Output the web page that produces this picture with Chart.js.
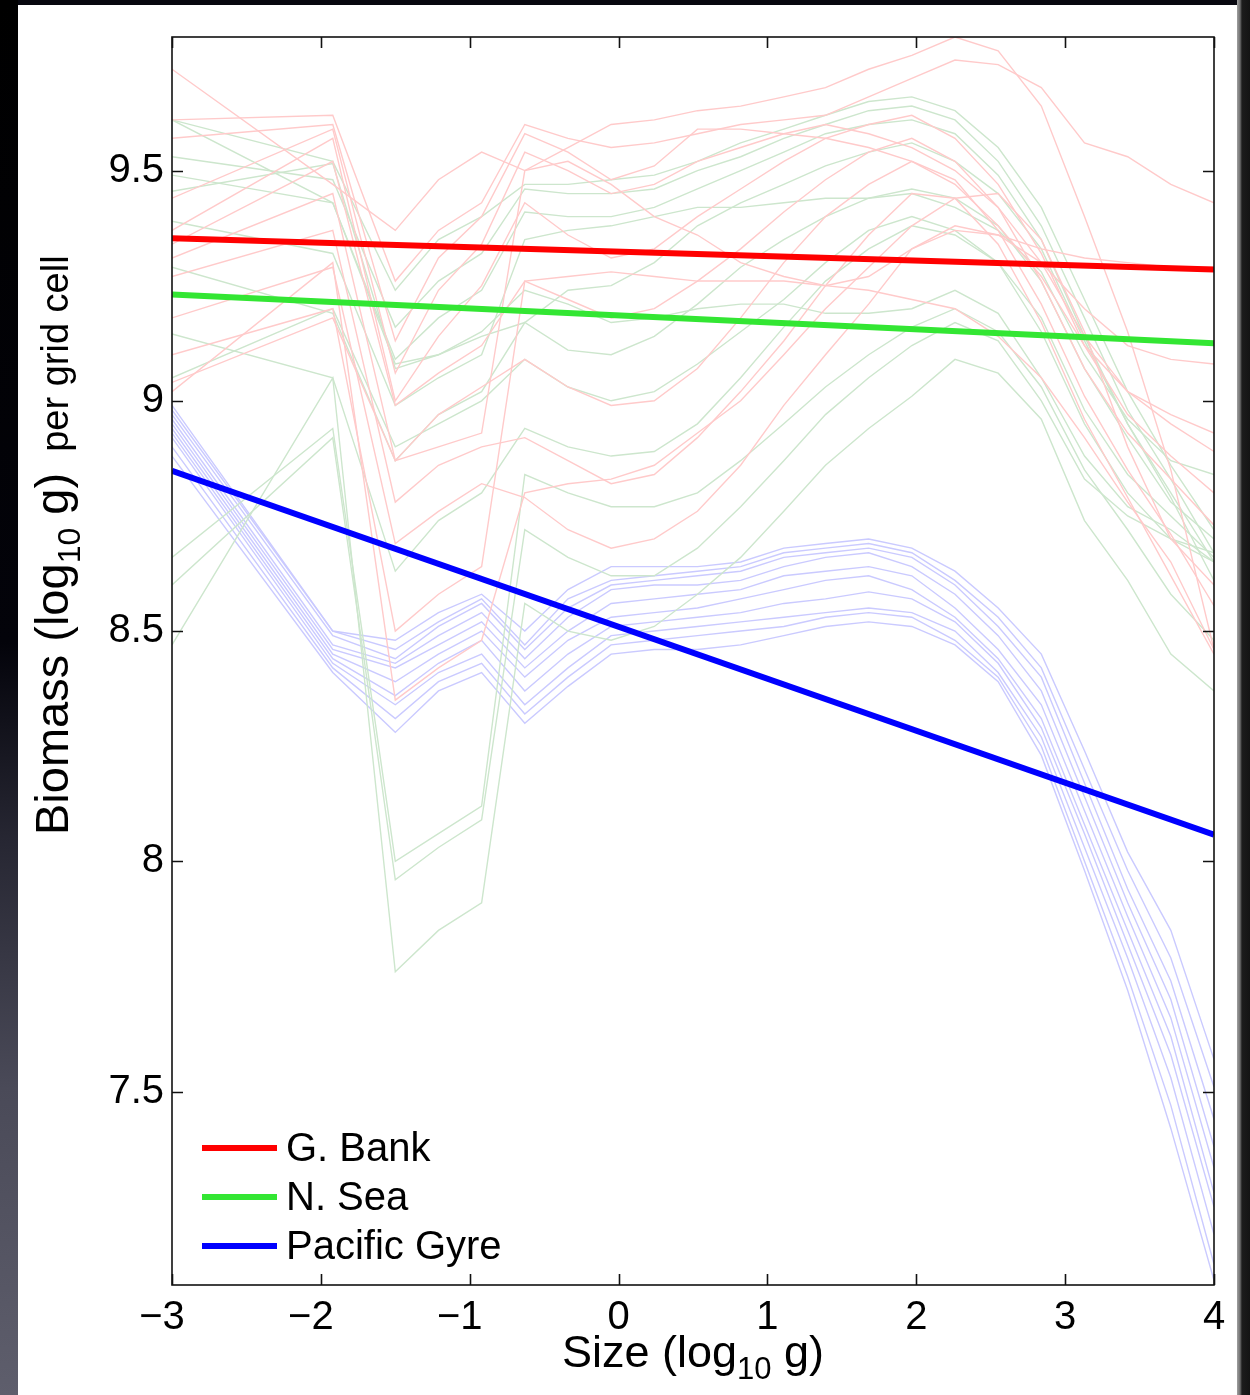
<!DOCTYPE html>
<html>
<head>
<meta charset="utf-8">
<script src="https://cdn.jsdelivr.net/npm/chart.js@4.4.1/dist/chart.umd.min.js"></script>
<style>
  html, body { margin: 0; padding: 0; }
  body { width: 1250px; height: 1395px; overflow: hidden; position: relative; background: #07070f; }
  #leftStrip { position: absolute; left: 0; top: 0; width: 18px; height: 1395px;
    background: linear-gradient(to bottom, #000 0%, #03030a 46%, #262632 60%, #4a4a58 78%, #5e5e6c 100%); }
  #rightStrip { position: absolute; left: 1237px; top: 0; width: 13px; height: 1395px;
    background: linear-gradient(to right, #a0a0a0 0px, #707070 3px, #1c1c1c 5px, #141414 100%); }
  #panel { position: absolute; left: 18px; top: 5px; width: 1219px; height: 1390px; background: #fff; }
  canvas { display: block; }
</style>
</head>
<body>
<div id="leftStrip"></div>
<div id="rightStrip"></div>
<div id="panel"><canvas id="biomassChart" width="1219" height="1390"></canvas></div>
<script>
// size classes (log10 g) where each model run is sampled
const sizes = [-3, -1.92, -1.5, -1.21, -0.92, -0.63, -0.34, -0.05, 0.24, 0.53, 0.82,
               1.11, 1.39, 1.68, 1.97, 2.26, 2.55, 2.84, 3.13, 3.42, 3.71, 4.0];

// individual runs, biomass (log10 g) per grid cell
const gBankRuns = [
    [9.72, 9.47, 9.37, 9.48, 9.54, 9.50, 9.55, 9.60, 9.61, 9.63, 9.64, 9.66, 9.68, 9.72, 9.75, 9.79, 9.76, 9.64, 9.40, 9.15, 8.85, 8.46],
    [9.61, 9.62, 9.26, 9.37, 9.43, 9.60, 9.57, 9.55, 9.56, 9.58, 9.60, 9.61, 9.62, 9.66, 9.70, 9.74, 9.73, 9.68, 9.56, 9.53, 9.47, 9.43],
    [9.57, 9.60, 9.13, 9.31, 9.40, 9.58, 9.54, 9.48, 9.51, 9.59, 9.59, 9.58, 9.57, 9.55, 9.52, 9.47, 9.38, 9.27, 9.12, 9.02, 8.97, 8.93],
    [9.44, 9.59, 9.06, 9.24, 9.34, 9.54, 9.50, 9.45, 9.47, 9.52, 9.55, 9.58, 9.60, 9.58, 9.55, 9.50, 9.42, 9.30, 9.14, 9.02, 8.95, 8.89],
    [9.37, 9.57, 9.00, 9.14, 9.25, 9.43, 9.36, 9.31, 9.33, 9.40, 9.46, 9.52, 9.57, 9.60, 9.62, 9.57, 9.47, 9.32, 9.12, 8.97, 8.88, 8.80],
    [9.34, 9.52, 8.99, 9.06, 9.12, 9.26, 9.22, 9.18, 9.20, 9.26, 9.33, 9.41, 9.48, 9.54, 9.57, 9.52, 9.42, 9.26, 9.07, 8.93, 8.83, 8.73],
    [9.31, 9.45, 8.87, 8.97, 9.03, 9.09, 9.03, 8.99, 9.00, 9.07, 9.18, 9.30, 9.40, 9.47, 9.52, 9.48, 9.37, 9.21, 9.01, 8.85, 8.71, 8.555],
    [9.27, 9.37, 8.78, 8.86, 8.90, 8.92, 8.87, 8.82, 8.84, 8.92, 9.02, 9.13, 9.25, 9.36, 9.45, 9.44, 9.34, 9.17, 8.96, 8.79, 8.62, 8.45],
    [9.18, 9.29, 8.69, 8.76, 8.82, 8.79, 8.72, 8.68, 8.70, 8.76, 8.86, 8.99, 9.10, 9.21, 9.33, 9.38, 9.36, 9.30, 9.20, 9.12, 9.09, 9.08],
    [9.10, 9.20, 8.50, 8.58, 8.64, 9.26, 9.27, 9.28, 9.27, 9.26, 9.26, 9.26, 9.25, 9.27, 9.33, 9.37, 9.36, 9.33, 9.31, 9.30, 9.29, 9.29],
    [9.02, 9.30, 8.35, 8.42, 8.48, 8.80, 8.82, 8.83, 8.86, 8.93, 9.00, 9.10, 9.20, 9.29, 9.38, 9.44, 9.45, 9.35, 9.15, 8.90, 8.70, 8.60],
    [9.04, 9.18, 8.87, 8.90, 8.93, 9.50, 9.52, 9.47, 9.40, 9.36, 9.30, 9.27, 9.25, 9.24, 9.22, 9.20, 9.14, 9.05, 8.92, 8.78, 8.65, 8.46]
];
const nSeaRuns = [
    [9.61, 9.52, 9.24, 9.35, 9.40, 9.47, 9.47, 9.48, 9.49, 9.52, 9.56, 9.59, 9.62, 9.65, 9.66, 9.63, 9.55, 9.42, 9.22, 9.02, 8.86, 8.72],
    [9.53, 9.48, 9.16, 9.26, 9.32, 9.46, 9.45, 9.45, 9.46, 9.50, 9.53, 9.57, 9.60, 9.63, 9.64, 9.61, 9.52, 9.38, 9.18, 8.98, 8.83, 8.67],
    [9.49, 9.43, 9.09, 9.18, 9.24, 9.41, 9.40, 9.40, 9.42, 9.46, 9.50, 9.54, 9.58, 9.60, 9.61, 9.58, 9.49, 9.35, 9.14, 8.95, 8.80, 8.65],
    [9.455, 9.515, 9.07, 9.10, 9.14, 9.17, 9.24, 9.25, 9.30, 9.38, 9.43, 9.47, 9.51, 9.54, 9.56, 9.52, 9.45, 9.33, 9.13, 8.95, 8.79, 8.61],
    [9.39, 9.32, 8.99, 9.05, 9.10, 9.35, 9.37, 9.38, 9.40, 9.42, 9.42, 9.43, 9.44, 9.44, 9.45, 9.42, 9.37, 9.28, 9.10, 8.96, 8.87, 8.84],
    [9.29, 9.19, 8.87, 8.97, 9.02, 9.17, 9.11, 9.10, 9.14, 9.21, 9.29, 9.35, 9.40, 9.44, 9.46, 9.44, 9.38, 9.26, 9.07, 8.92, 8.78, 8.70],
    [9.145, 9.05, 8.63, 8.74, 8.80, 8.94, 8.90, 8.88, 8.89, 8.95, 9.05, 9.16, 9.26, 9.33, 9.38, 9.36, 9.30, 9.18, 8.98, 8.84, 8.75, 8.66],
    [9.61, 9.43, 9.08, 9.10, 9.15, 9.24, 9.21, 9.17, 9.18, 9.20, 9.21, 9.21, 9.19, 9.19, 9.20, 9.24, 9.19, 9.05, 8.88, 8.77, 8.72, 8.65],
    [8.66, 8.94, 8.00, 8.06, 8.12, 8.84, 8.80, 8.77, 8.77, 8.80, 8.87, 8.95, 9.03, 9.10, 9.16, 9.20, 9.15, 9.03, 8.85, 8.72, 8.58, 8.48],
    [8.60, 8.92, 7.96, 8.03, 8.09, 8.72, 8.66, 8.62, 8.62, 8.68, 8.77, 8.87, 8.97, 9.05, 9.12, 9.17, 9.13, 9.00, 8.83, 8.75, 8.70, 8.67],
    [8.47, 9.05, 7.76, 7.85, 7.91, 8.56, 8.50, 8.48, 8.51, 8.58, 8.66, 8.76, 8.86, 8.94, 9.01, 9.09, 9.06, 8.96, 8.74, 8.61, 8.45, 8.37],
    [9.05, 9.20, 8.90, 8.95, 9.00, 9.09, 9.03, 9.00, 9.02, 9.08, 9.15, 9.22, 9.30, 9.37, 9.40, 9.37, 9.30, 9.15, 8.95, 8.80, 8.70, 8.65]
];
const pacificRuns = [
    [8.99, 8.50, 8.48, 8.54, 8.58, 8.50, 8.59, 8.64, 8.64, 8.64, 8.65, 8.68, 8.69, 8.70, 8.68, 8.63, 8.55, 8.45, 8.24, 8.02, 7.85, 7.57],
    [8.98, 8.50, 8.46, 8.52, 8.57, 8.47, 8.57, 8.61, 8.62, 8.63, 8.64, 8.67, 8.68, 8.69, 8.67, 8.61, 8.53, 8.42, 8.20, 7.98, 7.79, 7.51],
    [8.97, 8.49, 8.44, 8.51, 8.56, 8.46, 8.55, 8.60, 8.61, 8.62, 8.63, 8.66, 8.67, 8.68, 8.66, 8.60, 8.51, 8.40, 8.17, 7.94, 7.74, 7.44],
    [8.96, 8.47, 8.43, 8.49, 8.54, 8.44, 8.53, 8.59, 8.60, 8.60, 8.61, 8.64, 8.66, 8.67, 8.64, 8.58, 8.49, 8.37, 8.14, 7.91, 7.70, 7.38],
    [8.95, 8.46, 8.42, 8.47, 8.52, 8.42, 8.50, 8.56, 8.57, 8.58, 8.59, 8.62, 8.63, 8.64, 8.62, 8.55, 8.46, 8.34, 8.11, 7.88, 7.66, 7.335],
    [8.94, 8.45, 8.39, 8.45, 8.50, 8.40, 8.48, 8.53, 8.54, 8.55, 8.57, 8.59, 8.61, 8.62, 8.59, 8.53, 8.44, 8.31, 8.08, 7.85, 7.62, 7.28],
    [8.93, 8.44, 8.36, 8.43, 8.48, 8.37, 8.45, 8.51, 8.52, 8.53, 8.54, 8.56, 8.57, 8.585, 8.57, 8.52, 8.43, 8.29, 8.06, 7.82, 7.58, 7.25],
    [8.92, 8.43, 8.34, 8.41, 8.45, 8.34, 8.42, 8.49, 8.50, 8.51, 8.52, 8.53, 8.54, 8.55, 8.54, 8.50, 8.41, 8.27, 8.03, 7.79, 7.53, 7.19],
    [8.90, 8.42, 8.31, 8.39, 8.43, 8.32, 8.40, 8.47, 8.48, 8.49, 8.50, 8.51, 8.53, 8.54, 8.53, 8.48, 8.40, 8.25, 8.00, 7.75, 7.47, 7.125],
    [8.88, 8.41, 8.28, 8.37, 8.41, 8.30, 8.38, 8.45, 8.46, 8.46, 8.47, 8.49, 8.51, 8.52, 8.51, 8.47, 8.39, 8.23, 7.98, 7.72, 7.42, 7.09]
];

// straight-line fits for each region
const fitSizes = [-3, 4];
const gBankFit = [9.353, 9.285];
const nSeaFit = [9.231, 9.125];
const pacificFit = [8.848, 8.058];

const seriesNames = ["G. Bank", "N. Sea", "Pacific Gyre"];
const xTicks = [-3, -2, -1, 0, 1, 2, 3, 4];
const yTicks = [7.5, 8, 8.5, 9, 9.5];

const FONT = "'Liberation Sans', Arial, Helvetica, sans-serif";
const fitColors = ["#ff0000", "#33e633", "#0000ff"];
const runColors = ["#ffcaca", "#cde6cd", "#cacaff"];

function toPoints(xs, ys) {
    return xs.map((x, i) => ({ x: x, y: ys[i] }));
}

const datasets = [];
[gBankFit, nSeaFit, pacificFit].forEach((fit, i) => {
    datasets.push({
        label: seriesNames[i],
        data: toPoints(fitSizes, fit),
        borderColor: fitColors[i],
        borderWidth: 6,
        order: 0
    });
});
[gBankRuns, nSeaRuns, pacificRuns].forEach((runs, i) => {
    runs.forEach(run => {
        datasets.push({
            label: "",
            data: toPoints(sizes, run),
            borderColor: runColors[i],
            borderWidth: 1.4,
            order: 1 + i
        });
    });
});

// box with inward ticks on all four sides (MATLAB style)
const framePlugin = {
    id: "frame",
    afterDraw(chart) {
        const { ctx, chartArea: a, scales: { x, y } } = chart;
        const len = 11;
        ctx.save();
        ctx.strokeStyle = "#111";
        ctx.lineWidth = 1.6;
        ctx.strokeRect(a.left, a.top, a.right - a.left, a.bottom - a.top);
        ctx.beginPath();
        x.ticks.forEach(t => {
            const px = Math.round(x.getPixelForValue(t.value)) + 0.5;
            ctx.moveTo(px, a.bottom); ctx.lineTo(px, a.bottom - len);
            ctx.moveTo(px, a.top); ctx.lineTo(px, a.top + len);
        });
        y.ticks.forEach(t => {
            const py = Math.round(y.getPixelForValue(t.value)) + 0.5;
            ctx.moveTo(a.left, py); ctx.lineTo(a.left + len, py);
            ctx.moveTo(a.right, py); ctx.lineTo(a.right - len, py);
        });
        ctx.stroke();
        ctx.restore();
    }
};

function drawPieces(ctx, pieces) {
    let x = 0;
    pieces.forEach(p => {
        ctx.font = p.size + "px " + FONT;
        ctx.fillText(p.text, x, p.dy || 0);
        x += ctx.measureText(p.text).width;
    });
}

function piecesWidth(ctx, pieces) {
    let w = 0;
    pieces.forEach(p => {
        ctx.font = p.size + "px " + FONT;
        w += ctx.measureText(p.text).width;
    });
    return w;
}

// axis titles with subscripts + legend in the lower-left corner
const labelsPlugin = {
    id: "labels",
    afterDraw(chart) {
        const { ctx, chartArea: a } = chart;
        ctx.save();
        ctx.fillStyle = "#000";
        ctx.textBaseline = "alphabetic";

        const xTitle = [
            { text: "Size (log", size: 45 },
            { text: "10", size: 31, dy: 12 },
            { text: " g)", size: 45 }
        ];
        const w = piecesWidth(ctx, xTitle);
        ctx.save();
        ctx.translate((a.left + a.right) / 2 - w / 2, 1362);
        drawPieces(ctx, xTitle);
        ctx.restore();

        const yTitle = [
            { text: "Biomass (log", size: 47 },
            { text: "10", size: 32, dy: 12 },
            { text: " g)", size: 47 },
            { text: "  per grid cell", size: 38 }
        ];
        ctx.save();
        ctx.translate(50, 830);
        ctx.rotate(-Math.PI / 2);
        drawPieces(ctx, yTitle);
        ctx.restore();

        // legend
        const rows = [1143, 1192, 1241];
        ctx.textBaseline = "middle";
        ctx.font = "40px " + FONT;
        rows.forEach((ry, i) => {
            ctx.strokeStyle = fitColors[i];
            ctx.lineWidth = 6;
            ctx.beginPath();
            ctx.moveTo(184, ry);
            ctx.lineTo(259, ry);
            ctx.stroke();
            ctx.fillText(chart.data.datasets[i].label, 268, ry + 2);
        });
        ctx.restore();
    }
};

new Chart(document.getElementById("biomassChart"), {
    type: "line",
    data: { datasets: datasets },
    options: {
        responsive: false,
        animation: false,
        events: [],
        devicePixelRatio: 1,
        layout: { padding: { top: 29, right: 23, left: 0, bottom: 0 } },
        elements: {
            point: { radius: 0 },
            line: { tension: 0, borderJoinStyle: "miter", borderCapStyle: "butt" }
        },
        plugins: {
            legend: { display: false },
            tooltip: { enabled: false }
        },
        scales: {
            x: {
                type: "linear",
                min: -3,
                max: 4,
                afterBuildTicks: s => { s.ticks = xTicks.map(v => ({ value: v })); },
                afterFit: s => { s.height = 110; },
                grid: { display: false, drawTicks: false },
                border: { display: false },
                ticks: {
                    padding: 9,
                    maxRotation: 0,
                    color: "#000",
                    font: { family: FONT, size: 40 },
                    callback: v => v < 0 ? "\u2212" + Math.abs(v) + "\u2002" : String(v)
                }
            },
            y: {
                type: "linear",
                min: 7.08,
                max: 9.79,
                afterBuildTicks: s => { s.ticks = yTicks.map(v => ({ value: v })); },
                afterFit: s => { s.width = 154; },
                grid: { display: false, drawTicks: false },
                border: { display: false },
                ticks: {
                    padding: 8,
                    color: "#000",
                    font: { family: FONT, size: 40 },
                    callback: v => String(v)
                }
            }
        }
    },
    plugins: [framePlugin, labelsPlugin]
});
</script>
</body>
</html>
